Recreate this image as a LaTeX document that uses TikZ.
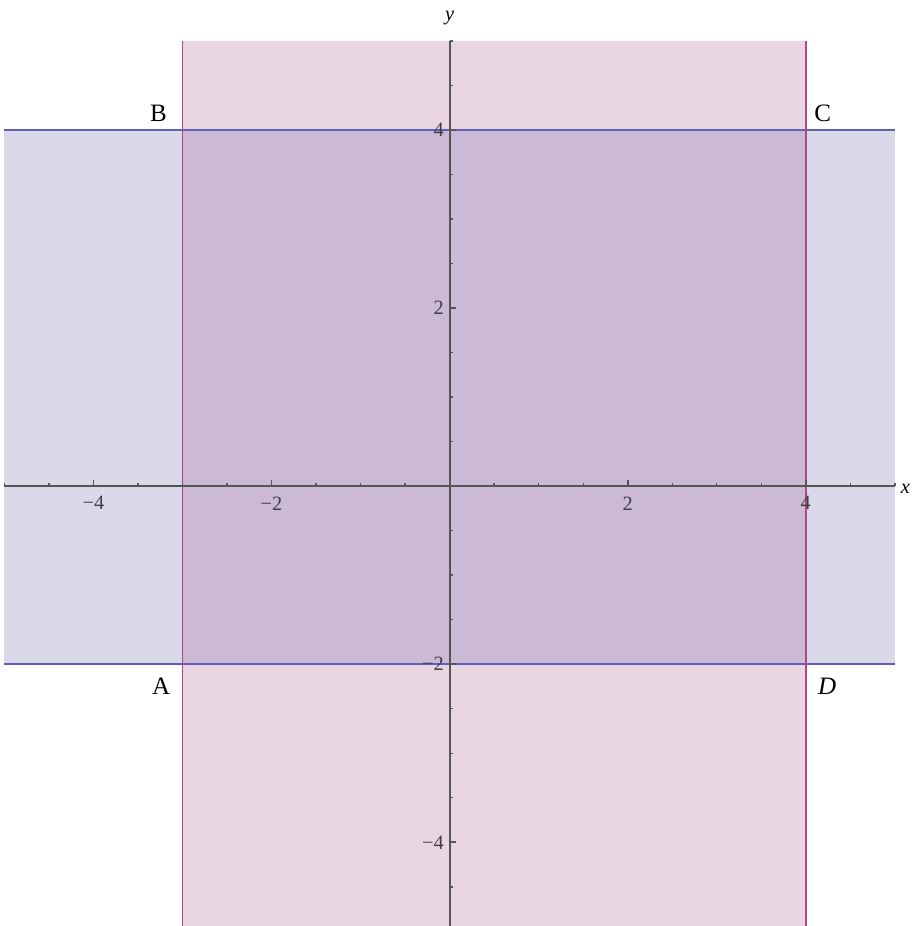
\documentclass[tikz,border=0pt]{standalone}
\usepackage{fontspec}
\setmainfont{Liberation Serif}
\usetikzlibrary{positioning,calc}
\definecolor{stripblue}{RGB}{217,217,234}
\definecolor{strippink}{RGB}{234,214,227}
\definecolor{overlap}{RGB}{203,185,213}
\definecolor{lineblue}{RGB}{95,95,185}
\definecolor{linepink}{RGB}{180,70,130}
\definecolor{axisgray}{RGB}{85,85,85}

\begin{document}
\begin{tikzpicture}[
  ticklabel/.style={font=\fontsize{6.5}{7}\selectfont, text=black!75, inner sep=0pt},
  corner/.style={font=\fontsize{8}{9}\selectfont, inner sep=0pt}]
\useasboundingbox (-5.05,-4.94) rectangle (5.2,5.46);
%% the two strips and their overlap
\fill[stripblue] (-5,-2) rectangle (5,4);
\fill[strippink] (-3,-5) rectangle (4,5);
\fill[overlap] (-3,-2) rectangle (4,4);
%% boundary lines
\foreach \h in {-2,4} {
  \draw[lineblue, line width=0.55pt] (-5,\h) -- (5,\h);
}
\foreach \v in {-3,4} {
  \draw[linepink, line width=0.55pt] (\v,-5) -- (\v,5);
}
%% axes
\draw[axisgray, line width=0.6pt] (-5,0) -- (5,0);
\draw[axisgray, line width=0.6pt] (0,-5) -- (0,5);
%% minor ticks
\foreach \t in {-5,-4.5,...,5} {
  \draw[axisgray, line width=0.45pt] (\t,0) -- (\t,0.035);
  \draw[axisgray, line width=0.45pt] (0,\t) -- (0.035,\t);
}
%% major ticks and labels
\foreach \t/\lab in {-4/−4,-2/−2,2/2,4/4} {
  \draw[axisgray, line width=0.55pt] (\t,0) -- (\t,0.07);
  \draw[axisgray, line width=0.55pt] (0,\t) -- (0.07,\t);
  \node[ticklabel, anchor=north] (xl\t) at (\t,-0.11) {\lab};
  \node[ticklabel, anchor=east] (yl\t) at (-0.06,\t) {\lab};
}
\node[font=\fontsize{6.5}{7}\selectfont, inner sep=0pt] (ylab) at (0,5.26) {\textit{y}};
\node[font=\fontsize{6.5}{7}\selectfont, inner sep=0pt, anchor=west] (xlab) at (5.06,-0.03) {\textit{x}};
%% corners
\node[corner] (B) at (-3.27,4.19) {B};
\node[corner] (C) at (4.19,4.19) {C};
\node[corner] (A) at (-3.24,-2.25) {A};
\node[corner] (D) at (4.24,-2.25) {\textit{D}};
\end{tikzpicture}
\end{document}
